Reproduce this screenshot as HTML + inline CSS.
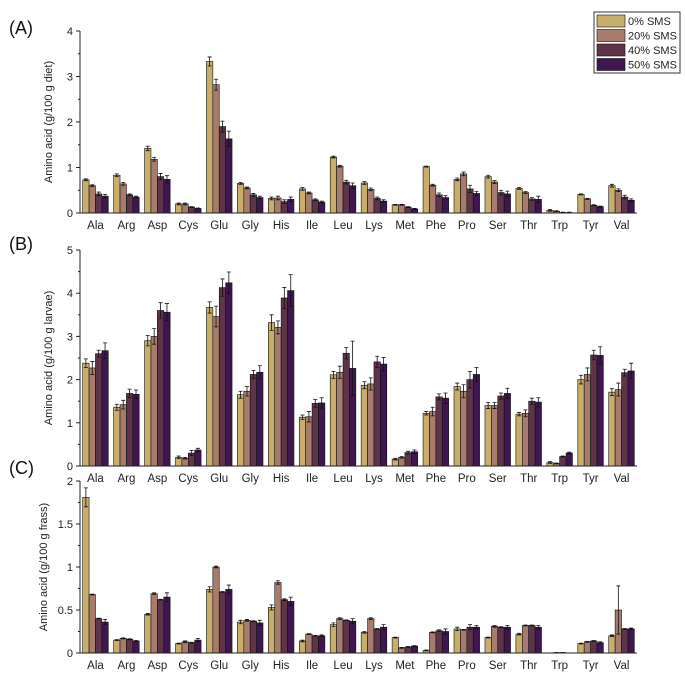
<!DOCTYPE html>
<html><head><meta charset="utf-8"><style>
body{margin:0;background:#fff;font-family:"Liberation Sans",Arial,sans-serif}
svg text{font-family:"Liberation Sans",Arial,sans-serif}
</style></head><body>
<svg id="chart" width="685" height="685" viewBox="0 0 685 685" xmlns="http://www.w3.org/2000/svg"></svg>
<script>
const categories=["Ala","Arg","Asp","Cys","Glu","Gly","His","Ile","Leu","Lys","Met","Phe","Pro","Ser","Thr","Trp","Tyr","Val"];
const seriesNames=["0% SMS","20% SMS","40% SMS","50% SMS"];
const colors=["#c8ae6a","#a87c6c","#5e3449","#3f1650"];
const dietValues=[[0.73,0.6,0.42,0.37],[0.83,0.64,0.4,0.35],[1.42,1.18,0.8,0.74],[0.2,0.2,0.13,0.1],[3.33,2.82,1.9,1.63],[0.65,0.55,0.4,0.34],[0.32,0.33,0.25,0.3],[0.53,0.44,0.29,0.24],[1.23,1.03,0.68,0.6],[0.66,0.52,0.32,0.26],[0.18,0.18,0.13,0.09],[1.02,0.61,0.4,0.34],[0.74,0.86,0.53,0.43],[0.8,0.68,0.45,0.42],[0.54,0.45,0.31,0.3],[0.06,0.04,0.01,0.01],[0.41,0.31,0.17,0.14],[0.6,0.5,0.35,0.28]];
const dietErrors=[[.02,.02,.04,.04],[.03,.03,.02,.02],[.05,.04,.07,.08],[.02,.02,.01,.01],[.1,.12,.12,.17],[.02,.02,.03,.03],[.03,.04,.04,.05],[.03,.02,.02,.02],[.02,.02,.04,.06],[.03,.03,.03,.03],[.01,.01,.01,.01],[.01,.02,.04,.04],[.03,.04,.08,.04],[.03,.03,.05,.06],[.02,.02,.03,.07],[.02,.01,.01,.01],[.01,.01,.01,.01],[.03,.03,.04,.03]];
const larvaeValues=[[2.38,2.27,2.6,2.67],[1.36,1.42,1.68,1.66],[2.9,3.0,3.6,3.56],[0.2,0.18,0.3,0.37],[3.67,3.46,4.13,4.24],[1.65,1.73,2.12,2.17],[3.32,3.21,3.89,4.06],[1.13,1.14,1.45,1.46],[2.11,2.17,2.61,2.26],[1.87,1.9,2.41,2.36],[0.16,0.2,0.31,0.33],[1.22,1.26,1.6,1.57],[1.84,1.73,2.0,2.12],[1.4,1.4,1.62,1.68],[1.2,1.22,1.5,1.48],[0.08,0.06,0.22,0.3],[2.0,2.12,2.57,2.56],[1.71,1.77,2.16,2.2]];
const larvaeErrors=[[.1,.15,.08,.18],[.07,.1,.1,.1],[.12,.18,.18,.2],[.03,.02,.06,.04],[.13,.24,.2,.25],[.08,.11,.09,.15],[.18,.15,.24,.37],[.05,.12,.09,.12],[.08,.14,.13,.63],[.08,.14,.13,.15],[.02,.02,.03,.04],[.04,.1,.07,.12],[.08,.15,.19,.16],[.07,.07,.07,.12],[.04,.08,.07,.1],[.02,.01,.01,.02],[.1,.15,.11,.2],[.08,.15,.08,.18]];
const frassValues=[[1.81,0.68,0.4,0.36],[0.15,0.17,0.16,0.14],[0.45,0.69,0.62,0.65],[0.11,0.13,0.12,0.15],[0.74,1.0,0.71,0.74],[0.36,0.38,0.37,0.35],[0.53,0.82,0.62,0.6],[0.14,0.22,0.2,0.2],[0.33,0.4,0.38,0.37],[0.24,0.4,0.28,0.3],[0.18,0.06,0.07,0.08],[0.03,0.24,0.26,0.25],[0.28,0.27,0.3,0.3],[0.18,0.31,0.3,0.3],[0.22,0.32,0.32,0.3],[0,0.005,0.005,0],[0.11,0.13,0.14,0.12],[0.2,0.5,0.28,0.28]];
const frassErrors=[[.11,.005,.005,.03],[.005,.005,.005,.005],[.01,.01,.005,.05],[.005,.01,.005,.02],[.03,.01,.005,.05],[.02,.01,.005,.03],[.03,.02,.01,.05],[.01,.005,.005,.01],[.02,.01,.005,.03],[.01,.01,.005,.03],[.005,.005,.005,.005],[.005,.005,.01,.03],[.02,.005,.03,.02],[.005,.01,.005,.02],[.01,.005,.005,.02],[0,0,0,0],[.005,.005,.005,.01],[.01,.28,.005,.01]];
const dietTicks=[0,1,2,3,4];
const larvaeTicks=[0,1,2,3,4,5];
const frassTicks=[0,0.5,1,1.5,2];
const frassTickLabels=["0","0.5","1","1.5","2"];

const NS="http://www.w3.org/2000/svg";
const svg=document.getElementById('chart');
function mk(tag,attrs,parent){const e=document.createElementNS(NS,tag);for(const k in attrs)e.setAttribute(k,attrs[k]);(parent||svg).appendChild(e);return e;}

function panel(opts){
  const g=mk('g',{});
  
  
  const x0=80,x1=637,y0=opts.y0,yTop=opts.yTop,max=opts.max;
  const yS=v=>y0-(v/max)*(y0-yTop);
  const gw=(x1-x0)/categories.length;
  const xC=i=>x0+gw*(i+0.5);
  const bw=6.4;
  // bars
  opts.values.forEach((vals,i)=>{
    vals.forEach((v,s)=>{
      const bx=xC(i)-2*bw+s*bw;
      const r=mk('rect',{x:bx,y:yS(v),width:bw,height:Math.max(0,y0-yS(v)),fill:colors[s],stroke:'#111','stroke-width':0.6},g);
      
      
      const e=opts.errors[i][s];
      const cx=bx+bw/2;
      const el=mk('path',{d:`M${cx},${yS(v+e)}V${yS(v-e)}M${cx-2},${yS(v+e)}H${cx+2}M${cx-2},${yS(v-e)}H${cx+2}`,stroke:'#111','stroke-width':0.8,fill:'none'},g);
      
      
    });
  });
  // axes
  const ax=mk('path',{d:`M${x0},${yTop}V${y0}H${x1}`,stroke:'#222','stroke-width':1,fill:'none'},g);
  
  
  opts.ticks.forEach((t,k)=>{
    mk('line',{x1:x0-4,x2:x0,y1:yS(t),y2:yS(t),stroke:'#222','stroke-width':1},g);
    const tl=mk('text',{x:x0-7,y:yS(t)+4,'font-size':11,'text-anchor':'end',fill:'#222'},g);
    tl.textContent=opts.labels?opts.labels[k]:String(t);
    
    
    if(k<opts.ticks.length-1){const m=(t+opts.ticks[k+1])/2;mk('line',{x1:x0-2,x2:x0,y1:yS(m),y2:yS(m),stroke:'#222','stroke-width':1},g);}
  });
  categories.forEach((c,i)=>{
    const t=mk('text',{x:xC(i),y:y0+16,'font-size':11.5,'text-anchor':'middle',fill:'#222'},g);
    t.textContent=c;
    
    
  });
  const yt=mk('text',{x:0,y:0,'font-size':11,'text-anchor':'middle',fill:'#222',transform:`translate(${opts.titleX},${(y0+yTop)/2}) rotate(-90)`},g);
  yt.textContent=opts.title;
  
  
  const pl=mk('text',{x:9,y:opts.letterY,'font-size':18,fill:'#111'},g);
  pl.textContent=opts.letter;
  
  
}
panel({name:'panel-a-diet',y0:213,yTop:31,max:4,values:dietValues,errors:dietErrors,ticks:dietTicks,title:'Amino acid (g/100 g diet)',titleX:52,letter:'(A)',letterY:34});
panel({name:'panel-b-larvae',y0:466,yTop:250,max:5,values:larvaeValues,errors:larvaeErrors,ticks:larvaeTicks,title:'Amino acid (g/100 g larvae)',titleX:52,letter:'(B)',letterY:250});
panel({name:'panel-c-frass',y0:653,yTop:481,max:2,values:frassValues,errors:frassErrors,ticks:frassTicks,labels:frassTickLabels,title:'Amino acid (g/100 g frass)',titleX:47,letter:'(C)',letterY:474});
// legend
const lg=mk('g',{});


mk('rect',{x:594,y:12,width:86,height:61,fill:'#fff',stroke:'#333','stroke-width':1},lg);
seriesNames.forEach((n,s)=>{
  const e=mk('g',{},lg);
  
  
  mk('rect',{x:597,y:15+s*14.5,width:28,height:12,fill:colors[s],stroke:'#111','stroke-width':0.6},e);
  const t=mk('text',{x:628,y:25+s*14.5,'font-size':11,fill:'#222'},e);
  t.textContent=n;
});
</script>
</body></html>
